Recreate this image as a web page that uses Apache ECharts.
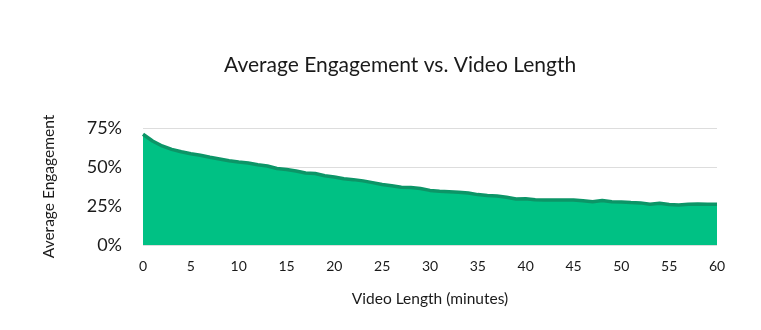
<!DOCTYPE html>
<html>
<head>
<meta charset="utf-8">
<script src="https://cdn.jsdelivr.net/npm/echarts@6/dist/echarts.min.js"></script>
<style>html,body{margin:0;padding:0;background:#fff}#c{width:761px;height:330px}</style>
</head>
<body>
<div id="c"></div>
<script>
const minutes = [];
for (let i = 0; i <= 60; i++) minutes.push(i);
const engagement = [
  0.71, 0.667, 0.635, 0.613, 0.598, 0.585, 0.575, 0.562, 0.551, 0.540,
  0.532, 0.526, 0.515, 0.506, 0.490, 0.484, 0.474, 0.462, 0.458, 0.444,
  0.436, 0.425, 0.419, 0.411, 0.400, 0.388, 0.380, 0.370, 0.368, 0.362,
  0.350, 0.345, 0.342, 0.338, 0.333, 0.323, 0.318, 0.314, 0.306, 0.295,
  0.297, 0.290, 0.289, 0.289, 0.288, 0.288, 0.284, 0.277, 0.285, 0.277,
  0.275, 0.272, 0.270, 0.261, 0.268, 0.259, 0.257, 0.261, 0.263, 0.262, 0.262
];
const yTicks = ['0%', '25%', '50%', '75%'];
const titleText = 'Average Engagement vs. Video Length';
const xName = 'Video Length (minutes)';
const yName = 'Average Engagement';

const chart = echarts.init(document.getElementById('c'), null, {renderer: 'canvas'});
const font = 'Lato';
chart.setOption({
  animation: false,
  backgroundColor: '#ffffff',
  title: {
    text: titleText, left: 219, top: 50,
    textStyle: {fontFamily: font, fontSize: 21, fontWeight: 'normal', color: '#1a1a1a'}
  },
  grid: {left: 143, right: 44, top: 128, bottom: 85},
  xAxis: {
    type: 'value', min: 0, max: 60, interval: 5,
    name: xName, nameLocation: 'middle', nameGap: 46,
    nameTextStyle: {fontFamily: font, fontSize: 15.5, color: '#1a1a1a'},
    axisLine: {show: false}, axisTick: {show: false}, splitLine: {show: false},
    axisLabel: {fontFamily: font, fontSize: 14, color: '#1a1a1a', margin: 14}
  },
  yAxis: {
    type: 'value', min: 0, max: 0.75, interval: 0.25,
    name: yName, nameLocation: 'middle', nameGap: 86, nameRotate: 90,
    nameTextStyle: {fontFamily: font, fontSize: 15.5, color: '#1a1a1a'},
    axisLine: {show: false}, axisTick: {show: false},
    splitLine: {lineStyle: {color: '#dddddd', width: 1}},
    axisLabel: {
      fontFamily: font, fontSize: 18, color: '#1a1a1a', margin: 21,
      formatter: function (v) { return yTicks[Math.round(v / 0.25)]; }
    }
  },
  series: [{
    type: 'line',
    data: minutes.map((m, i) => [m, engagement[i]]),
    showSymbol: false,
    lineStyle: {color: '#0c9567', width: 3.5},
    areaStyle: {color: '#00c184', opacity: 1},
    itemStyle: {color: '#0c9567'}
  }]
});
</script>
</body>
</html>
